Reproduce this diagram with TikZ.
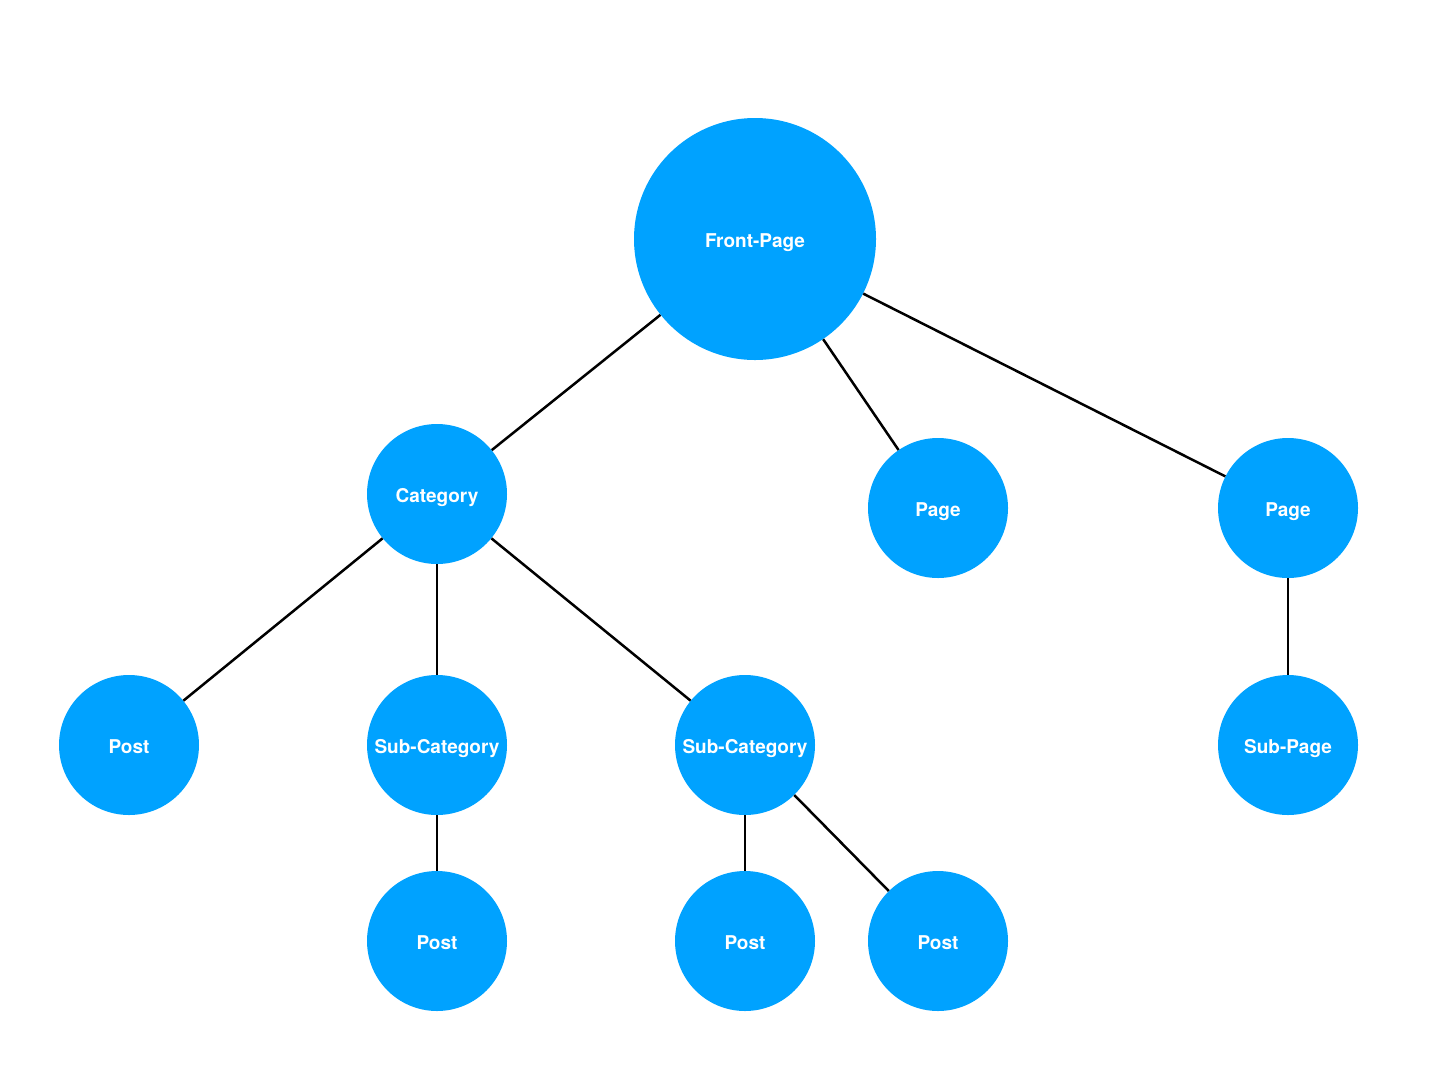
\documentclass[tikz,border=0pt]{standalone}
\usepackage{fontspec}
\setmainfont{TeX Gyre Heros}
\definecolor{nodeblue}{HTML}{00A2FF}
\begin{document}
\begin{tikzpicture}[x=1pt,y=-1pt,
  bub/.style={circle,fill=nodeblue,inner sep=0pt,minimum size=140pt,text=white,text height=16pt,text depth=0pt,font=\fontsize{19}{21}\selectfont\bfseries},
  big/.style={bub,minimum size=242pt},
  link/.style={draw=black,line width=2.5pt}]
\useasboundingbox (0,0) rectangle (1440,1080);
\node[big] (front) at (755,239) {Front-Page};
\node[bub] (cat) at (437,494) {Category};
\node[bub] (page1) at (938,508) {Page};
\node[bub] (page2) at (1288,508) {Page};
\node[bub] (post1) at (129,745) {Post};
\node[bub] (sub1) at (437,745) {Sub-Category};
\node[bub] (sub2) at (745,745) {Sub-Category};
\node[bub] (subpage) at (1288,745) {Sub-Page};
\node[bub] (post2) at (437,941) {Post};
\node[bub] (post3) at (745,941) {Post};
\node[bub] (post4) at (938,941) {Post};
\draw[link] (front) -- (cat);
\draw[link] (front) -- (page1);
\draw[link] (front) -- (page2);
\draw[link] (cat) -- (post1);
\draw[link] (cat) -- (sub1);
\draw[link] (cat) -- (sub2);
\draw[link] (page2) -- (subpage);
\draw[link] (sub1) -- (post2);
\draw[link] (sub2) -- (post3);
\draw[link] (sub2) -- (post4);
\end{tikzpicture}
\end{document}
